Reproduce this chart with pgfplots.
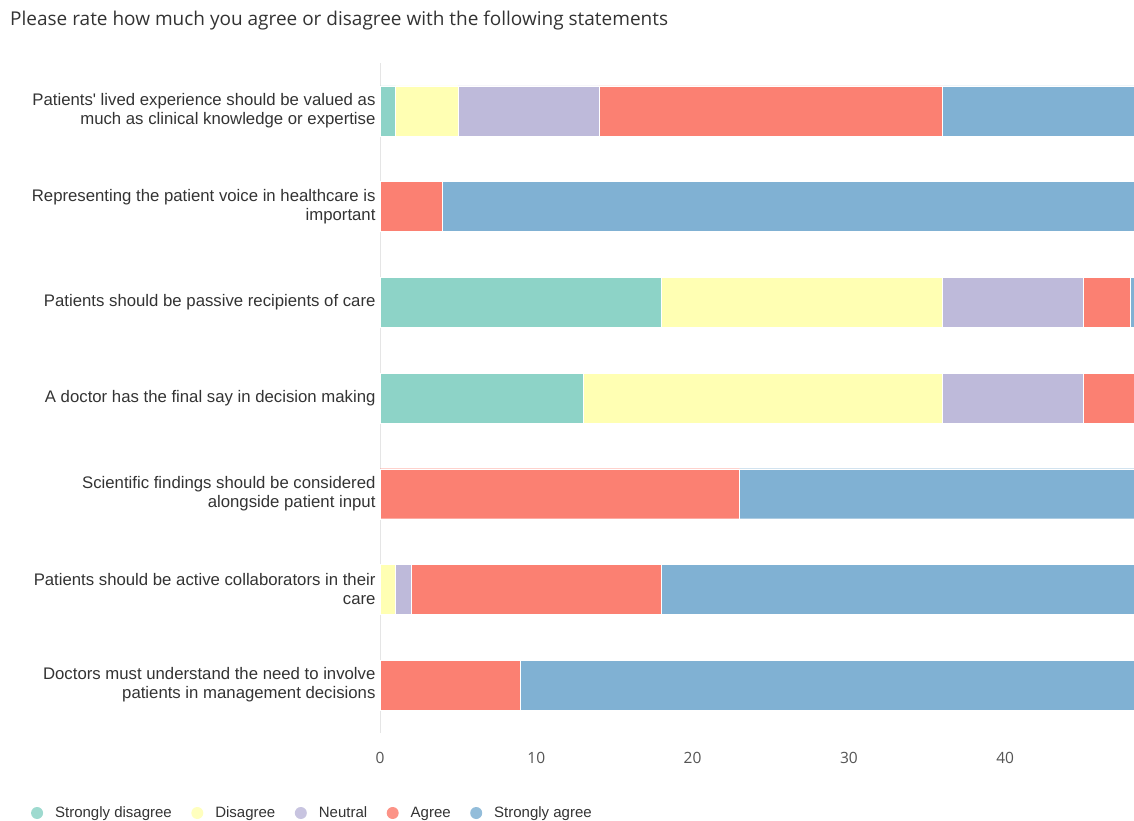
\documentclass[border=0pt]{standalone}
\usepackage{fontspec}
\setmainfont{Liberation Sans}[Ligatures=TeXOff]
\newfontfamily\titlefont{Open Sans}
\usepackage{pgfplots}
\pgfplotsset{compat=1.18}
\usepackage{pgfplotstable}

\definecolor{sdis}{HTML}{8DD3C7}
\definecolor{dis}{HTML}{FFFFB3}
\definecolor{neu}{HTML}{BEBADA}
\definecolor{agr}{HTML}{FB8072}
\definecolor{sagr}{HTML}{80B1D3}
\definecolor{txt}{HTML}{333333}
\definecolor{ticktxt}{HTML}{555555}

% counts per statement (row 0 = top bar)
\pgfplotstableread{
row sd d n a sa
0 1 4 9 22 13
1 0 0 0 4 45
2 18 18 9 3 1
3 13 23 9 4 0
4 0 0 0 23 26
5 0 1 1 16 31
6 0 0 0 9 40
}\ratings

\begin{document}
\begin{tikzpicture}
\path[use as bounding box] (0,0) rectangle (1134pt,821pt);
\begin{axis}[
  at={(380pt,88pt)}, anchor=south west,
  scale only axis,
  width=754pt, height=670pt,
  xbar stacked,
  bar width=50pt,
  xmin=0, xmax=48.24,
  ymin=-0.5, ymax=6.5,
  y dir=reverse,
  ytick={0,...,6},
  yticklabels={
    {Patients' lived experience should be valued as\\much as clinical knowledge or expertise},
    {Representing the patient voice in healthcare is\\important},
    {Patients should be passive recipients of care},
    {A doctor has the final say in decision making},
    {Scientific findings should be considered\\alongside patient input},
    {Patients should be active collaborators in their\\care},
    {Doctors must understand the need to involve\\patients in management decisions}},
  xtick={0,10,20,30,40},
  major tick length=0pt,
  axis x line*=bottom, axis y line*=left,
  x axis line style={draw=none},
  y axis line style={draw=black!10},
  yticklabel style={align=right, font=\fontsize{16.75}{19}\selectfont, text=txt, xshift=-1pt},
  xticklabel style={font=\titlefont\fontsize{15.5}{17}\selectfont, text=ticktxt, yshift=-16pt},
  /pgf/number format/assume math mode=true,
  legend columns=5,
  legend style={at={(-0.467,-0.1194)}, anchor=west, draw=none, fill=none,
    font=\fontsize{15}{17}\selectfont, text=txt,
    /tikz/every even column/.append style={column sep=17.5pt}},
  legend image code/.code={\fill[#1, draw=none, fill opacity=0.85] (0pt,0pt) circle (6pt); \path[draw=none, fill=none] (0pt,0pt) -- (16pt,0pt);},
]
\addplot[fill=sdis, draw=white, line width=0.4pt] table[x=sd, y=row] {\ratings};
\addlegendentry{Strongly disagree}
\addplot[fill=dis, draw=white, line width=0.4pt] table[x=d, y=row] {\ratings};
\addlegendentry{Disagree}
\addplot[fill=neu, draw=white, line width=0.4pt] table[x=n, y=row] {\ratings};
\addlegendentry{Neutral}
\addplot[fill=agr, draw=white, line width=0.4pt] table[x=a, y=row] {\ratings};
\addlegendentry{Agree}
\addplot[fill=sagr, draw=white, line width=0.4pt] table[x=sa, y=row] {\ratings};
\addlegendentry{Strongly agree}
\end{axis}
\node[anchor=base west, text=txt, font=\titlefont\fontsize{19}{22}\selectfont, inner sep=0pt]
  at (10pt,795pt) {Please rate how much you agree or disagree with the following statements};
\end{tikzpicture}
\end{document}
